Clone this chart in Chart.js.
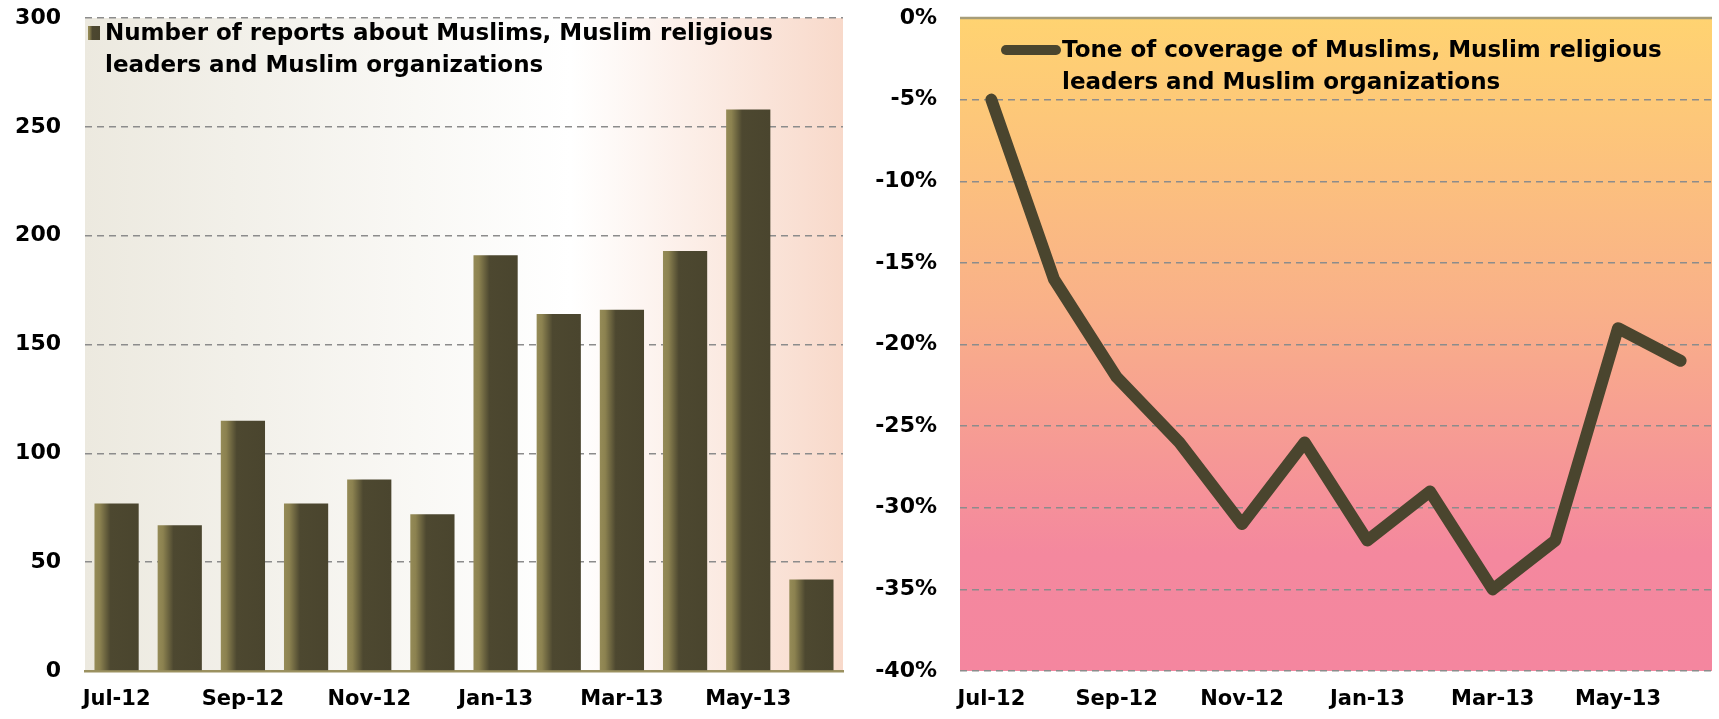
<!DOCTYPE html>
<html lang="en">
<head>
<meta charset="utf-8">
<script src="https://cdn.jsdelivr.net/npm/chart.js"></script>
<style>
    html, body { margin: 0; padding: 0; background: #ffffff; }
    .wrap { position: relative; width: 1719px; height: 719px; }
    .panel { position: absolute; top: 0; height: 719px; }
    #left { left: 0; width: 860px; }
    #right { left: 860px; width: 859px; }
</style>
</head>
<body>
<div class="wrap">
    <div class="panel" id="left"><canvas id="reportsChart"></canvas></div>
    <div class="panel" id="right"><canvas id="toneChart"></canvas></div>
</div>
<script>
const months = ['Jul-12', 'Aug-12', 'Sep-12', 'Oct-12', 'Nov-12', 'Dec-12',
                'Jan-13', 'Feb-13', 'Mar-13', 'Apr-13', 'May-13', 'Jun-13'];
const reportCounts = [77, 67, 115, 77, 88, 72, 191, 164, 166, 193, 258, 42];
const tonePercent = [-5, -16, -22, -26, -31, -26, -32, -29, -35, -32, -19, -21];
const reportsLegend = ['Number of reports about Muslims, Muslim religious', 'leaders and Muslim organizations'];
const toneLegend = ['Tone of coverage of Muslims, Muslim religious', 'leaders and Muslim organizations'];

const FONT = '"DejaVu Sans", Verdana, sans-serif';
const DARK = '#4A452E';

function barGradient(ctx, x0, x1) {
    const g = ctx.createLinearGradient(x0, 0, x1, 0);
    g.addColorStop(0, '#958B57');
    g.addColorStop(0.12, '#8C8250');
    g.addColorStop(0.36, '#4D4830');
    g.addColorStop(1, DARK);
    return g;
}

// plot-area backgrounds, bar shading, axis line and legends
const panelPlugin = {
    id: 'panel',
    beforeDraw(chart, args, opts) {
        const { ctx, chartArea: a } = chart;
        let g;
        if (opts.kind === 'bar') {
            g = ctx.createLinearGradient(a.left, 0, a.right, 0);
            g.addColorStop(0, '#ECE9DF');
            g.addColorStop(0.64, '#FFFFFF');
            g.addColorStop(1, '#F8D9CA');
        } else {
            g = ctx.createLinearGradient(0, a.top, 0, a.bottom);
            g.addColorStop(0, '#FFD371');
            g.addColorStop(0.45, '#F9B089');
            g.addColorStop(0.82, '#F4889E');
            g.addColorStop(1, '#F4869F');
        }
        ctx.save();
        ctx.fillStyle = g;
        ctx.fillRect(a.left, a.top, a.right - a.left, a.bottom - a.top);
        ctx.restore();
    },
    beforeDatasetsDraw(chart, args, opts) {
        const { ctx, chartArea: a } = chart;
        if (opts.kind === 'bar') {
            // options are shared between bars, so give each bar its own copy
            chart.getDatasetMeta(0).data.forEach(bar => {
                const g = barGradient(ctx, bar.x - bar.width / 2, bar.x + bar.width / 2);
                bar.options = Object.assign({}, bar.options, { backgroundColor: g });
            });
            return;
        }
        // horizontal axis crosses at 0%
        const y = chart.scales.y.getPixelForValue(0);
        ctx.save();
        ctx.strokeStyle = '#A69D79';
        ctx.lineWidth = 2.5;
        ctx.beginPath();
        ctx.moveTo(a.left, y);
        ctx.lineTo(a.right, y);
        ctx.stroke();
        ctx.restore();
    },
    afterDatasetsDraw(chart, args, opts) {
        const { ctx, chartArea: a } = chart;
        ctx.save();
        ctx.font = 'bold 23px ' + FONT;
        ctx.fillStyle = '#000000';
        ctx.textBaseline = 'middle';
        if (opts.kind === 'bar') {
            ctx.fillStyle = barGradient(ctx, a.left + 3, a.left + 15);
            ctx.fillRect(a.left + 3, a.top + 8, 12, 14);
            ctx.fillStyle = '#000000';
            ctx.fillText(opts.lines[0], a.left + 20, a.top + 16);
            ctx.fillText(opts.lines[1], a.left + 20, a.top + 48);
        } else {
            ctx.strokeStyle = DARK;
            ctx.lineWidth = 10;
            ctx.lineCap = 'round';
            ctx.beginPath();
            ctx.moveTo(a.left + 46, a.top + 32);
            ctx.lineTo(a.left + 96, a.top + 32);
            ctx.stroke();
            ctx.fillText(opts.lines[0], a.left + 102, a.top + 33);
            ctx.fillText(opts.lines[1], a.left + 102, a.top + 65);
        }
        ctx.restore();
    }
};

const tickFont = { family: FONT, size: 22, weight: 'bold' };
const catFont = { family: FONT, size: 21, weight: 'bold' };

function xAxis(extra) {
    return Object.assign({
        grid: { display: false, drawTicks: false },
        ticks: {
            autoSkip: false, maxRotation: 0, color: '#000', font: catFont, padding: 16,
            callback: (v, i) => (i % 2 === 0 ? months[i] : '')
        },
        afterFit: s => { s.height = 48; }
    }, extra);
}

function yFit(width) {
    return s => { s.width = width; s.paddingTop = 0; s.paddingBottom = 0; };
}

new Chart(document.getElementById('reportsChart'), {
    type: 'bar',
    data: {
        labels: months,
        datasets: [{
            label: reportsLegend.join(' '),
            data: reportCounts,
            backgroundColor: DARK,
            borderWidth: 0,
            categoryPercentage: 1,
            barPercentage: 0.7
        }]
    },
    options: {
        responsive: true,
        maintainAspectRatio: false,
        animation: false,
        layout: { padding: { top: 18, right: 17, left: 0, bottom: 0 } },
        plugins: {
            legend: { display: false },
            tooltip: { enabled: false },
            panel: { kind: 'bar', lines: reportsLegend }
        },
        scales: {
            x: xAxis({ border: { display: true, color: '#9B9160', width: 2.5 } }),
            y: {
                min: 0, max: 300,
                ticks: { stepSize: 50, color: '#000', font: tickFont, padding: 24 },
                grid: { color: '#8C8C8C', lineWidth: 1.5, drawTicks: false },
                border: { display: false, dash: [7, 5] },
                afterFit: yFit(85)
            }
        }
    },
    plugins: [panelPlugin]
});

new Chart(document.getElementById('toneChart'), {
    type: 'line',
    data: {
        labels: months,
        datasets: [{
            label: toneLegend.join(' '),
            data: tonePercent,
            borderColor: DARK,
            borderWidth: 12,
            borderCapStyle: 'round',
            borderJoinStyle: 'round',
            pointRadius: 0,
            tension: 0,
            fill: false
        }]
    },
    options: {
        responsive: true,
        maintainAspectRatio: false,
        animation: false,
        layout: { padding: { top: 18, right: 7, left: 0, bottom: 0 } },
        plugins: {
            legend: { display: false },
            tooltip: { enabled: false },
            panel: { kind: 'line', lines: toneLegend }
        },
        scales: {
            x: xAxis({ offset: true, border: { display: false } }),
            y: {
                min: -40, max: 0,
                ticks: { stepSize: 5, color: '#000', font: tickFont, padding: 23, callback: v => v + '%' },
                grid: { color: c => (c.tick && c.tick.value === 0 ? 'rgba(0,0,0,0)' : '#8C8C8C'), lineWidth: 1.5, drawTicks: false },
                border: { display: false, dash: [7, 5] },
                afterFit: yFit(100)
            }
        }
    },
    plugins: [panelPlugin]
});
</script>
</body>
</html>
